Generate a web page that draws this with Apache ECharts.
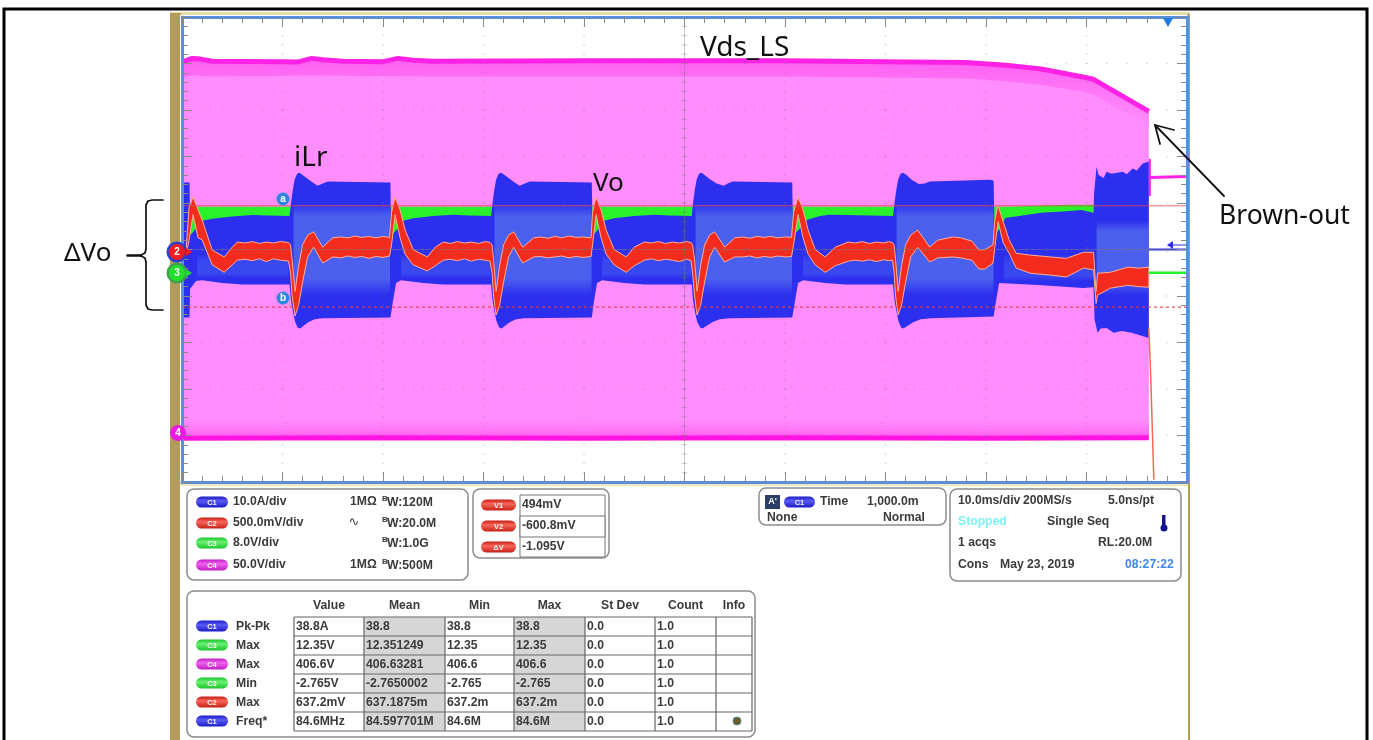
<!DOCTYPE html>
<html><head><meta charset="utf-8">
<style>html,body{margin:0;padding:0;background:#fff}#c{width:1373px;height:740px}</style>
<script src="https://cdn.jsdelivr.net/npm/echarts@6/dist/echarts.min.js"></script>
</head><body><div id="c"></div>
<script>
// x = time in ms (10 ms/div), y = graticule divisions from screen centre
const magentaUpper=[[0,4.03],[1,4.11],[1.7,4.1],[3,4.05],[10,4.04],[11.5,4.03],[12.9,4.11],[14,4.08],[16,4.05],[20,4.04],[21.5,4.11],[23,4.07],[25,4.05],[40,4.06],[60,4.06],[70,4.04],[78,4.02],[82,3.96],[85.5,3.88],[89.9,3.70],[90.7,3.66],[96.2,2.97]];
const magentaUpperInner=[[0,3.7],[1,3.75],[3,3.72],[13,3.74],[25,3.72],[40,3.72],[60,3.72],[70,3.7],[78,3.68],[82,3.62],[85.5,3.54],[89.9,3.38],[90.7,3.33],[96.2,2.65]];
const magentaLower=[[0,-4.06],[20,-4.05],[40,-4.06],[60,-4.05],[80,-4.06],[96.2,-4.05]];
const magentaLowerInner=[[0,-3.62],[96.2,-3.62]];
const greenUpper=[[0.8,0.92],[40,0.92],[82.3,0.92],[88,0.96],[90.7,0.96]];
const greenLower=[[0.8,0.2],[90.7,0.2]];
const blueUpper=[[0,1.44],[0.75,1.44],[0.8,0.3],[1.6,0.5],[2.0,.62],[3,.66],[5,.71],[7,.74],[8.5,.73],[10.7,.72],
[10.85,1.0],[11.0,1.25],[11.2,1.5],[11.45,1.63],[11.7,1.65],[12.0,1.6],[12.5,1.52],[13.0,1.44],[13.5,1.37],[14.0,1.42],[14.5,1.46],[20.74,1.44],
[20.8,.3],[21.7,.5],[22.0,.62],[23,.67],[25,.72],[27,.75],[28.5,.73],[30.75,.72],
[30.9,1.0],[31.05,1.25],[31.25,1.5],[31.5,1.63],[31.75,1.65],[32.1,1.6],[32.6,1.52],[33.1,1.44],[33.6,1.37],[34.1,1.42],[34.6,1.46],[40.78,1.44],
[40.85,.3],[41.7,.5],[42,.62],[43,.67],[45,.72],[47,.75],[48.5,.73],[50.72,.72],
[50.85,1.0],[51.0,1.25],[51.2,1.5],[51.45,1.63],[51.7,1.65],[52.0,1.6],[52.6,1.5],[53.2,1.42],[53.9,1.37],[54.3,1.42],[54.8,1.46],[60.72,1.44],
[60.8,.3],[61.7,.5],[62.2,.64],[63.5,.72],[64.4,.75],[66,.74],[70.75,.72],
[70.9,1.0],[71.05,1.25],[71.25,1.5],[71.5,1.63],[71.75,1.65],[72.1,1.6],[72.6,1.5],[73.3,1.41],[73.9,1.42],[74.4,1.46],[80.4,1.5],[80.76,1.48],
[80.85,.3],[81.7,.56],[81.9,.68],[85.5,.79],[88,.82],[89.5,.85],[90.7,.79],
[90.75,1.2],[91.0,1.78],[91.2,1.6],[91.7,1.54],[92.0,1.67],[92.5,1.63],[93.6,1.67],[94,1.62],[94.6,1.74],[95,1.7],[95.6,1.85],[96.2,1.89]];
const blueLower=[[0,-1.46],[0.75,-1.46],[0.8,-.85],[1.4,-.68],[2.0,-.66],[4,-.72],[6,-.75],[10.7,-.75],
[10.85,-1.1],[11.05,-1.35],[11.25,-1.55],[11.5,-1.68],[11.75,-1.70],[12.1,-1.64],[12.6,-1.56],[13.2,-1.5],[14,-1.48],[20.74,-1.46],
[21.0,-1.1],[21.3,-.72],[21.8,-.66],[24,-.72],[26,-.75],[30.75,-.75],
[30.9,-1.1],[31.1,-1.35],[31.3,-1.55],[31.55,-1.68],[31.8,-1.70],[32.15,-1.64],[32.65,-1.56],[33.25,-1.5],[34,-1.48],[40.78,-1.46],
[41.0,-1.1],[41.3,-.72],[41.8,-.66],[44,-.72],[46,-.75],[50.72,-.75],
[50.85,-1.1],[51.05,-1.35],[51.25,-1.55],[51.55,-1.68],[51.8,-1.70],[52.2,-1.64],[52.8,-1.56],[53.5,-1.5],[54.5,-1.48],[60.72,-1.46],
[61.0,-1.1],[61.3,-.72],[61.8,-.66],[64,-.72],[66,-.75],[70.75,-.75],
[70.9,-1.1],[71.1,-1.35],[71.3,-1.55],[71.55,-1.68],[71.8,-1.70],[72.2,-1.64],[72.8,-1.56],[73.5,-1.5],[74.5,-1.48],[80.76,-1.44],
[81.0,-1.1],[81.3,-.72],[85.6,-.77],[89.6,-.83],[90.7,-.81],
[90.8,-1.5],[91.1,-1.79],[91.4,-1.70],[92,-1.69],[92.7,-1.79],[93.5,-1.75],[94.5,-1.79],[96.1,-1.9],[96.2,-1.9]];
// [start, end, top, bottom]
const burstCores=[[11.1,20.7,.98,-.98],[31.1,40.75,.98,-.98],[51.1,60.7,.98,-.98],[71.1,80.75,.98,-.98],[91,96.2,.62,-.98]];
const idleCores=[[1.5,10.6,-.1,-.62],[21.8,30.7,-.1,-.62],[41.8,50.7,-.1,-.62],[61.8,70.7,-.1,-.62],[81.8,90.7,-.1,-.68]];
// [ms, top, bottom] of the Vo trace
const redBand=[[0.4,-.02,-.12],[.7,.9,.2],[1.1,1.13,.75],[1.6,.85,.25],[2.0,.64,.21],[3.0,-.01,-.33],[4.2,-.16,-.49],[5.0,.05,-.33],[5.5,.16,-.23],
[6.3,.14,-.21],[7,.17,-.24],[7.7,.13,-.2],[8.4,.16,-.26],[9.1,.14,-.2],[9.8,.17,-.23],[10.6,.15,-.25],
[10.8,.1,-.5],[10.95,-.2,-1.0],[11.25,-.9,-1.43],[11.6,-.35,-1.2],[12.0,.1,-.7],[12.5,.31,-.16],[13.1,.38,.05],[14.0,.05,-.29],[15,.25,-.16],
[15.8,.27,-.18],[16.5,.25,-.14],[17.2,.29,-.17],[17.9,.26,-.15],[18.6,.28,-.19],[19.3,.25,-.15],[20,.28,-.17],[20.65,.26,-.14],
[20.85,.8,.1],[21.2,1.13,.75],[21.7,.85,.25],[22.2,.42,-.1],[23,0,-.33],[24.4,-.16,-.46],[25.2,.05,-.35],[26,.16,-.23],
[26.7,.13,-.21],[27.4,.17,-.24],[28.1,.14,-.2],[28.8,.16,-.25],[29.5,.13,-.21],[30.2,.17,-.23],[30.65,.15,-.25],
[30.85,.1,-.5],[31,-.2,-1.0],[31.25,-.9,-1.41],[31.6,-.35,-1.2],[32,.1,-.7],[32.5,.31,-.16],[33,.38,.05],[33.9,.05,-.29],[35,.25,-.16],
[35.7,.27,-.15],[36.4,.24,-.18],[37.1,.28,-.16],[37.8,.25,-.14],[38.5,.29,-.18],[39.2,.26,-.15],[39.9,.27,-.17],[40.7,.25,-.15],
[40.85,.8,.1],[41.2,1.13,.75],[41.7,.85,.25],[42.2,.42,-.1],[43,0,-.33],[44.2,-.16,-.49],[45,.05,-.35],[46,.16,-.23],
[46.7,.14,-.2],[47.4,.17,-.24],[48.1,.13,-.21],[48.8,.16,-.23],[49.5,.14,-.26],[50.2,.17,-.21],[50.65,.15,-.24],
[50.8,.1,-.5],[51,-.2,-1.0],[51.25,-.9,-1.41],[51.6,-.35,-1.2],[52,.1,-.7],[52.5,.31,-.16],[53,.38,.05],[54,.05,-.27],[55,.25,-.16],
[55.8,.27,-.16],[56.5,.24,-.14],[57.2,.28,-.18],[57.9,.26,-.15],[58.6,.28,-.17],[59.3,.25,-.14],[60,.27,-.16],[60.65,.26,-.15],
[60.85,.8,.1],[61.3,1.13,.75],[61.8,.85,.25],[62.3,.42,-.1],[63,0,-.33],[64,-.16,-.49],[65,.05,-.35],[66.3,.16,-.25],
[67,.14,-.23],[67.7,.17,-.25],[68.4,.13,-.22],[69.1,.16,-.26],[69.8,.14,-.22],[70.3,.17,-.24],[70.7,.15,-.23],
[70.85,.1,-.5],[71,-.2,-1.0],[71.25,-.9,-1.41],[71.6,-.35,-1.2],[72,.1,-.7],[72.5,.31,-.16],[73.2,.42,.05],[74.4,.05,-.27],[75.2,.2,-.18],[76.7,.27,-.16],[77.5,.25,-.18],[78.6,.18,-.23],[79.3,-.01,-.42],[79.9,.0,-.42],[80.7,.1,-.29],
[80.85,.6,0],[81.2,.96,.6],[81.7,.6,.15],[82.3,.21,-.08],[83,-.08,-.4],[84.4,-.12,-.51],[86.4,-.16,-.55],[88,-.19,-.59],[89.7,-.06,-.4],[90.7,-.06,-.44],
[90.95,-.9,-1.16],[91.1,-.51,-.98],[92.4,-.49,-.83],[94.1,-.38,-.77],[95.2,-.4,-.8],[96.2,-.38,-.81]];
const collapseTrace=[[96.2,-1.7],[96.4,-2.8],[96.7,-4.95]];
const magentaStep=[[96.3,1.95],[96.3,1.15]];
const magentaAfter=[[96.3,1.55],[100,1.57]];
const blueAfter=[[96.2,0],[100,0]];
const greenAfter=[[96.2,-.5],[100,-.5]];
const cursorA=[[0,0.94],[100,0.94]];
const cursorB=[[0,-1.24],[100,-1.24]];
const xMajor=[0,10,20,30,40,50,60,70,80,90,100];
const yMajor=[-5,-4,-3,-2,-1,0,1,2,3,4,5];

// text of the readouts
const chNames=['C1','C2','C3','C4'];
const chScale=['10.0A/div','500.0mV/div','8.0V/div','50.0V/div'];
const chImp=['1MΩ','','','1MΩ'];
const chBw=['W:120M','W:20.0M','W:1.0G','W:500M'];
const cursorNames=['V1','V2','ΔV'];
const cursorVals=['494mV','-600.8mV','-1.095V'];
const tblHeads=['Value','Mean','Min','Max','St Dev','Count','Info'];
const tblCh=['C1','C3','C4','C3','C2','C1'];
const tblName=['Pk-Pk','Max','Max','Min','Max','Freq*'];
const tblValue=['38.8A','12.35V','406.6V','-2.765V','637.2mV','84.6MHz'];
const tblMean=['38.8','12.351249','406.63281','-2.7650002','637.1875m','84.597701M'];
const tblMin=['38.8','12.35','406.6','-2.765','637.2m','84.6M'];
const tblMax=['38.8','12.35','406.6','-2.765','637.2m','84.6M'];
const tblStd=['0.0','0.0','0.0','0.0','0.0','0.0'];
const tblCnt=['1.0','1.0','1.0','1.0','1.0','1.0'];

const chart=echarts.init(document.getElementById('c'),null,{renderer:'canvas'});
const LG=(stops)=>new echarts.graphic.LinearGradient(0,0,0,1,stops.map((c,i)=>({offset:c[0],color:c[1]})));

function polySeries(name,upper,lower,fill,extra){
  return {type:'custom',name,silent:true,data:upper,encode:{x:0,y:1},clip:true,
    renderItem(p,api){
      if(p.dataIndex!==0) return null;
      const pts=upper.concat(lower.slice().reverse()).map(d=>api.coord(d));
      return {type:'polygon',shape:{points:pts},style:Object.assign({fill},extra||{})};
    }};
}
function blockSeries(name,rows,stops){
  return {type:'custom',name,silent:true,data:rows.map(r=>[r[0],r[2],r[1],r[3]]),encode:{x:[0,2],y:[1,3]},
    renderItem(p,api){
      const a=api.coord([api.value(0),api.value(1)]),b=api.coord([api.value(2),api.value(3)]);
      return {type:'rect',shape:{x:a[0],y:a[1],width:b[0]-a[0],height:b[1]-a[1]},style:{fill:LG(stops)}};
    }};
}
function lineS(name,data,color,width,extra){
  return Object.assign({type:'line',name,data,symbol:'none',silent:true,animation:false,
    lineStyle:{color,width},itemStyle:{color}},extra||{});
}
const TANL='#B39B5B',BLUE='#5B8FD9';
const xAxisBase={type:'value',min:0,max:100,interval:10,z:10,
  axisLine:{show:true,onZero:false,lineStyle:{color:BLUE,width:3}},
  axisTick:{show:true,inside:true,length:10,lineStyle:{color:'#8a8a8a',width:1}},
  minorTick:{show:true,splitNumber:5,length:6,lineStyle:{color:'#8a8a8a',width:1}},
  axisLabel:{show:false},splitLine:{show:false}};
const yAxisBase=Object.assign({},xAxisBase,{min:-5,max:5,interval:1});

// graticule dots and the centre-cross tick marks
const dots=[],xCross=[],yCross=[];
xMajor.forEach(x=>{for(let i=0;i<=50;i++){dots.push([x,-5+i*0.2]);}});
yMajor.forEach(y=>{for(let i=0;i<=50;i++){dots.push([i*2,y]);}});
for(let i=1;i<50;i++){xCross.push([i*2,0]);yCross.push([50,-5+i*0.2]);}

const series=[
  polySeries('C4 envelope',magentaUpper,magentaLower,'#FF8DFE'),
  polySeries('C4 top glow',magentaUpper,magentaUpperInner,LG([[0,'#FF60F2'],[0.6,'#FF7CF9'],[1,'#FF8DFE']])),
  polySeries('C4 bottom glow',magentaLowerInner,magentaLower,LG([[0,'#FF8DFE'],[0.6,'#FF78F8'],[1,'#FF50F0']])),
  lineS('C4 max',magentaUpper,'#FF22E6',5),
  lineS('C4 min',magentaLower,'#FF14E2',5),
  polySeries('C3 envelope',greenUpper,greenLower,'#2AF22A'),
  polySeries('C1 envelope',blueUpper,blueLower,'#2D2FEE'),
  blockSeries('C1 idle core',idleCores,[[0,'rgba(70,96,242,0)'],[.3,'rgba(70,96,242,.5)'],[.8,'rgba(70,96,242,.5)'],[1,'rgba(70,96,242,0)']]),
  blockSeries('C1 burst core',burstCores,[[0,'rgba(96,128,238,0)'],[.14,'rgba(96,128,238,.6)'],[.82,'rgba(96,128,238,.6)'],[1,'rgba(96,128,238,0)']]),
  polySeries('C2 Vo',redBand.map(r=>[r[0],r[1]]),redBand.map(r=>[r[0],r[2]]),'#F42C1E',{stroke:'#FFAE94',lineWidth:1}),
  lineS('C4 after',magentaAfter,'#FF22E6',3),
  lineS('C4 step',magentaStep,'#FF22E6',2),
  lineS('C1 after',blueAfter,'#2D2FEE',2),
  lineS('C3 after',greenAfter,'#2AF22A',2.5),
  lineS('collapse',collapseTrace,'#F06A58',1.5),
  lineS('cursor a',cursorA,'rgba(232,70,70,.8)',1),
  lineS('cursor b',cursorB,'rgba(240,60,60,.9)',1.2,{lineStyle:{color:'rgba(240,60,60,.9)',width:1.2,type:[3,3]}}),
  {type:'scatter',name:'dots',silent:true,data:dots,symbol:'rect',symbolSize:1.5,itemStyle:{color:'rgba(120,120,120,.35)'},z:5},
  {type:'scatter',name:'x cross',silent:true,data:xCross,symbol:'rect',symbolSize:[1,6],itemStyle:{color:'rgba(120,120,120,.4)'},z:5},
  {type:'scatter',name:'y cross',silent:true,data:yCross,symbol:'rect',symbolSize:[6,1],itemStyle:{color:'rgba(120,120,120,.4)'},z:5},
  lineS('centre h',[[0,0],[100,0]],'rgba(120,120,120,.5)',1,{z:5}),
  lineS('centre v',[[50,-5],[50,5]],'rgba(120,120,120,.4)',1,{z:5}),
];

// ---------- non-plot drawing
const g=[];
const FF='"Liberation Sans",Arial,sans-serif';
const rect=(x,y,w,h,fill,extra)=>g.push(Object.assign({type:'rect',shape:{x,y,width:w,height:h,r:(extra&&extra.r)||0},style:{fill,stroke:(extra&&extra.stroke)||null,lineWidth:(extra&&extra.lw)||1},z:(extra&&extra.z)||0,silent:true}));
const text=(x,y,s,o)=>{o=o||{};g.push({type:'text',silent:true,z:o.z||20,style:{x,y,text:s,fill:o.fill||'#3a3a3a',font:o.font||('bold 12.2px '+FF),align:o.align||'left',verticalAlign:'middle',textAlign:o.align||'left',textVerticalAlign:'middle'}});};
const pl=(pts,stroke,lw)=>g.push({type:'polyline',silent:true,z:30,shape:{points:pts},style:{stroke,lineWidth:lw,fill:null,lineCap:'round',lineJoin:'round'}});
const tri=(pts,fill)=>g.push({type:'polygon',silent:true,z:30,shape:{points:pts},style:{fill}});
const pillColor={C1:['#5a5cf5','#1c1cc8'],C2:['#f8675c','#c81f14'],C3:['#6cf072','#18c42a'],C4:['#f063ef','#c01cc4'],V1:['#f8675c','#c81f14'],V2:['#f8675c','#c81f14'],'ΔV':['#f8675c','#c81f14']};
const pill=(x,yc,w,label)=>{const c=pillColor[label];
  g.push({type:'rect',silent:true,z:12,shape:{x,y:yc-5.5,width:w,height:11,r:5.5},style:{fill:LG([[0,c[1]],[.4,c[0]],[1,c[1]]])}});
  text(x+w/2,yc+.5,label,{align:'center',fill:'#f4f4f4',font:'bold 7.5px '+FF,z:13});};
const panel=(x,y,w,h)=>rect(x,y,w,h,'#fff',{r:7,stroke:'#8c8c8c',lw:1.5,z:1});

// outer frame and scope bezel
rect(4,9,1363,740,'#fff',{stroke:'#000',lw:3,z:0});
rect(170,12,1020,728,'#E6DDA8',{z:1});
rect(170,13,11,727,TANL,{z:1});
rect(1187,14,3,726,TANL,{z:1});
rect(180,15,1008,725,'#fff',{z:1});
rect(180,483,1008,3,'#EDE6BE',{z:1});

// channel panel
panel(187,489,281,91);
const chRows=[502,523,543,565];
chNames.forEach((n,i)=>{const y=chRows[i];
  pill(196,y,32,n);
  text(233,y,chScale[i]);
  if(chImp[i]) text(350,y,chImp[i]);
  text(382,y-3,'B',{font:'bold 8px '+FF});
  text(387,y+1,chBw[i]);
});
text(354,523,'∿',{font:'13px "DejaVu Sans"',align:'center'});
// cursor panel
panel(473,489,136,69);
rect(520,495,85,62,'#fff',{stroke:'#777',lw:1,z:2});
rect(520,516,85,21,'#fff',{stroke:'#777',lw:1,z:2});
const curRows=[505,526,547];
cursorNames.forEach((n,i)=>{pill(481,curRows[i],35,n);text(522,curRows[i],cursorVals[i]);});
// trigger panel
panel(759,488,187,37);
rect(765,495,15,14,'#2c3f66',{z:3});
text(772.5,502,"A'",{fill:'#fff',align:'center',font:'bold 9px '+FF});
pill(784,502,31,'C1');
text(820,502,'Time');text(867,502,'1,000.0m');
text(767,518,'None');text(925,518,'Normal',{align:'right'});
// timebase panel
panel(950,489,231,92);
text(958,501,'10.0ms/div');text(1023,501,'200MS/s');text(1108,501,'5.0ns/pt');
text(958,522,'Stopped',{fill:'#7FF0F4'});text(1047,522,'Single Seq');
rect(1162,515,3.5,11,'#14148c',{z:3});
g.push({type:'circle',silent:true,z:3,shape:{cx:1164,cy:528,r:3.5},style:{fill:'#14148c'}});
text(958,543,'1 acqs');text(1098,543,'RL:20.0M');
text(958,565,'Cons');text(1000,565,'May 23, 2019');text(1125,565,'08:27:22',{fill:'#3F86F0'});
// measurement table
panel(187,591,568,146);
const colX=[294,364,445,514,585,655,716,752];
const rowY=[617,636,655,674,693,712,731];
const cols=[tblValue,tblMean,tblMin,tblMax,tblStd,tblCnt];
[1,3].forEach(c=>rect(colX[c],rowY[0],colX[c+1]-colX[c],rowY[6]-rowY[0],'#D6D6D6',{z:2}));
colX.forEach(x=>rect(x,rowY[0],0,rowY[6]-rowY[0],'none',{stroke:'#666',lw:1.2,z:3}));
rowY.forEach(y=>rect(colX[0],y,colX[7]-colX[0],0,'none',{stroke:'#666',lw:1.2,z:3}));
tblHeads.forEach((h,i)=>text((colX[i]+colX[i+1])/2,606,h,{align:'center'}));
tblCh.forEach((c,r)=>{const y=(rowY[r]+rowY[r+1])/2;
  pill(196,y-.5,32,c);
  text(236,y,tblName[r]);
  cols.forEach((col,i)=>text(colX[i]+2,y,col[r]));
});
g.push({type:'circle',silent:true,z:5,shape:{cx:737,cy:721,r:4},style:{fill:'#6a5a24',stroke:'#4f8a9a',lineWidth:1}});

// trace markers
const marker=(cx,cy,r,color,label,ring)=>{
  if(ring) g.push({type:'circle',silent:true,z:25,shape:{cx,cy,r:r+2.5},style:{fill:ring}});
  g.push({type:'circle',silent:true,z:26,shape:{cx,cy,r},style:{fill:color}});
  text(cx,cy+.5,label,{align:'center',fill:'#fff',font:'bold 10px '+FF,z:27});};
marker(177,252,8,'#F01C22','2','#2B3FC8');
marker(177,273,8,'#22E02A','3','#3FA050');
marker(178,433,8,'#E81CE0','4');
marker(283,199,6.5,'#2E86E0','a');
marker(283,298,6.5,'#2E86E0','b');
tri([[186,248],[192,252],[186,256]],'#F01C22');
tri([[186,269],[192,273],[186,277]],'#22E02A');
tri([[1163,18],[1173,18],[1168,27]],'#1E78E0');
tri([[1167,245],[1173,241],[1173,249]],'#2D2FEE');
pl([[1173,245],[1186,245]],'#2D2FEE',1);

// annotations
const AF='"Noto Sans",sans-serif';
const note=(x,y,s,size)=>text(x,y,s,{fill:'#111',font:(size||26)+'px '+AF,z:40});
note(700,48,'Vds_LS',28);note(294,158,'iLr',28);note(593,184,'Vo',26);note(1219,216,'Brown-out',26.5);note(64,254,'ΔVo',26);
pl([[163,200],[152,200],[148,201],[146,205],[146,249],[145,253],[140,255.5],[145,258],[146,262],[146,305],[148,309],[152,310],[163,310]],'#111',1.7);
pl([[127.5,255.5],[141,255.5]],'#111',2.6);
pl([[1224,196],[1155,125]],'#111',1.8);
pl([[1174,130],[1155,125],[1160,144]],'#111',1.8);

chart.setOption({
  animation:false,backgroundColor:'#fff',
  grid:{left:182,right:186,top:17,bottom:258,containLabel:false},
  xAxis:[Object.assign({},xAxisBase,{position:'top'}),Object.assign({},xAxisBase,{position:'bottom'})],
  yAxis:[Object.assign({},yAxisBase,{position:'left'}),Object.assign({},yAxisBase,{position:'right'})],
  graphic:{elements:g},
  series
});
</script></body></html>
